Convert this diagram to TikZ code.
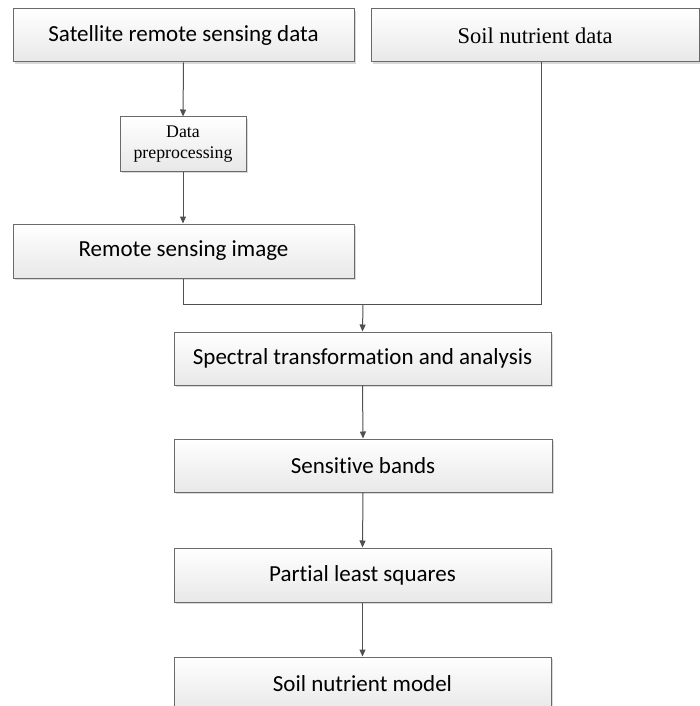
\documentclass[tikz,border=0pt]{standalone}
\usepackage{fontspec}
\setmainfont{Carlito}[Ligatures={NoCommon}]
\newfontfamily\tms{Liberation Serif}
\usetikzlibrary{arrows.meta,shadows}
\definecolor{edgec}{HTML}{6A6A6A}
\definecolor{linec}{HTML}{505050}
\tikzset{
  box/.style={draw=edgec, line width=1pt, inner sep=0pt, align=center,
    top color=white, bottom color=black!9, shading angle=0,
    drop shadow={shadow xshift=1.8pt, shadow yshift=-1.8pt, fill=black!15, opacity=1},
    font=\fontsize{23}{25}\selectfont},
  conn/.style={draw=linec, line width=1pt},
  arr/.style={conn, -{Triangle[length=7pt,width=6pt]}}
}
\begin{document}
\begin{tikzpicture}[x=1pt,y=-1pt]
\useasboundingbox (0,0) rectangle (700,706);
\node[box, minimum width=341pt, minimum height=53pt] (sat) at (183.5,35.5) {Satellite remote sensing data};
\node[box, minimum width=328pt, minimum height=53pt, font=\tms\fontsize{22.5}{24}\selectfont] (soil) at (535,35.5) {Soil nutrient data};
\node[box, minimum width=126pt, minimum height=54pt, font=\tms\fontsize{17.8}{20.5}\selectfont] (pre) at (183,144) {Data\\preprocessing};
\node[box, minimum width=341pt, minimum height=54pt] (rsi) at (183.5,251) {Remote sensing image};
\node[box, minimum width=377pt, minimum height=53pt] (spec) at (362.5,358.5) {Spectral transformation and analysis};
\node[box, minimum width=378pt, minimum height=53pt] (sens) at (363,465.5) {Sensitive bands};
\node[box, minimum width=377pt, minimum height=54pt] (pls) at (362.5,575) {Partial least squares};
\node[box, minimum width=377pt, minimum height=53pt] (model) at (362.5,683.5) {Soil nutrient model};
\coordinate (j) at (363,304.5);
\coordinate (st) at (541,62);
\draw[arr] (sat.south) -- (pre.north);
\draw[arr] (pre.south) -- (pre.south |- rsi.north);
\draw[conn] (rsi.south) |- (j);
\draw[conn] (st) |- (j);
\draw[arr] (j) -- (spec.north);
\draw[arr] (spec.south) -- (sens.north);
\draw[arr] (sens.south) -- (pls.north);
\draw[arr] (pls.south) -- (model.north);
\end{tikzpicture}
\end{document}
